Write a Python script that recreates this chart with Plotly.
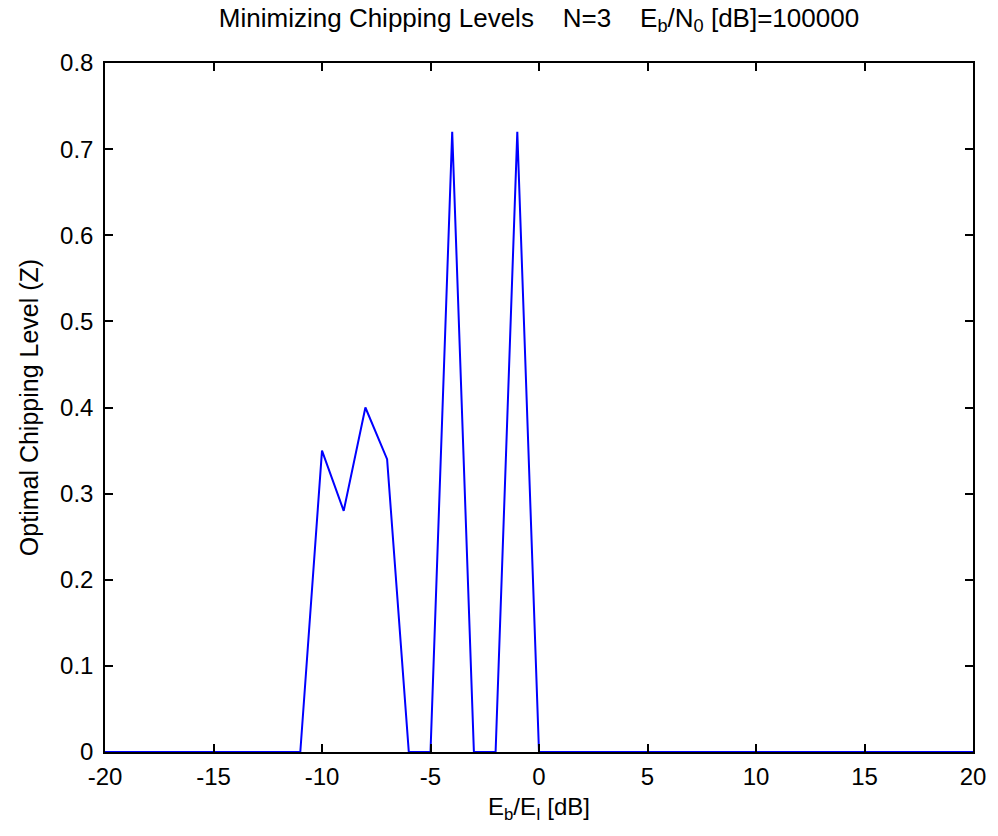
import plotly.graph_objects as go

x_vals = list(range(-20, 21))
# x: -20..-11 zeros, -10:.35, -9:.28, -8:.40, -7:.34, -6:0, -5:0, -4:.72, -3:0, -2:0, -1:.72, 0..20 zeros
z_vals = ([0]*10 + [0.35, 0.28, 0.40, 0.34, 0, 0, 0.72, 0, 0, 0.72] + [0]*21)

x_ticks = [-20, -15, -10, -5, 0, 5, 10, 15, 20]
x_tick_text = ["-20", "-15", "-10", "-5", "0", "5", "10", "15", "20"]
y_ticks = [0, 0.1, 0.2, 0.3, 0.4, 0.5, 0.6, 0.7, 0.8]
y_tick_text = ["0", "0.1", "0.2", "0.3", "0.4", "0.5", "0.6", "0.7", "0.8"]

FONT = "Liberation Sans, Arial, sans-serif"

fig = go.Figure()
fig.add_trace(go.Scatter(x=x_vals, y=z_vals, mode="lines",
                         line=dict(color="#0000ff", width=2), showlegend=False))

axis_common = dict(showgrid=False, zeroline=False, showline=True, linecolor="black",
                   linewidth=1.5, mirror="ticks", ticks="inside", ticklen=8,
                   tickcolor="black", tickwidth=1.5)

fig.update_layout(
    width=998, height=836,
    margin=dict(l=105, r=19, t=63, b=84),
    paper_bgcolor="white", plot_bgcolor="white",
    title=dict(text="Minimizing Chipping Levels    N=3    E<sub>b</sub>/N<sub>0</sub> [dB]=100000",
               x=0.5, xanchor="center", xref="paper", y=0.99, yanchor="top",
               font=dict(family=FONT, size=26, color="black")),
    xaxis=dict(range=[-20, 20], tickvals=x_ticks, ticktext=x_tick_text,
               tickfont=dict(family=FONT, size=24, color="black"), ticklabelstandoff=2,
               title=dict(text="E<sub>b</sub>/E<sub>I</sub> [dB]",
                          font=dict(family=FONT, size=24, color="black"), standoff=10),
               **axis_common),
    yaxis=dict(range=[0, 0.8], tickvals=y_ticks, ticktext=y_tick_text,
               tickfont=dict(family=FONT, size=24, color="black"), ticklabelstandoff=5,
               title=dict(text="Optimal Chipping Level (Z)",
                          font=dict(family=FONT, size=25, color="black"), standoff=14),
               **axis_common),
)

fig.write_html("out.html")
